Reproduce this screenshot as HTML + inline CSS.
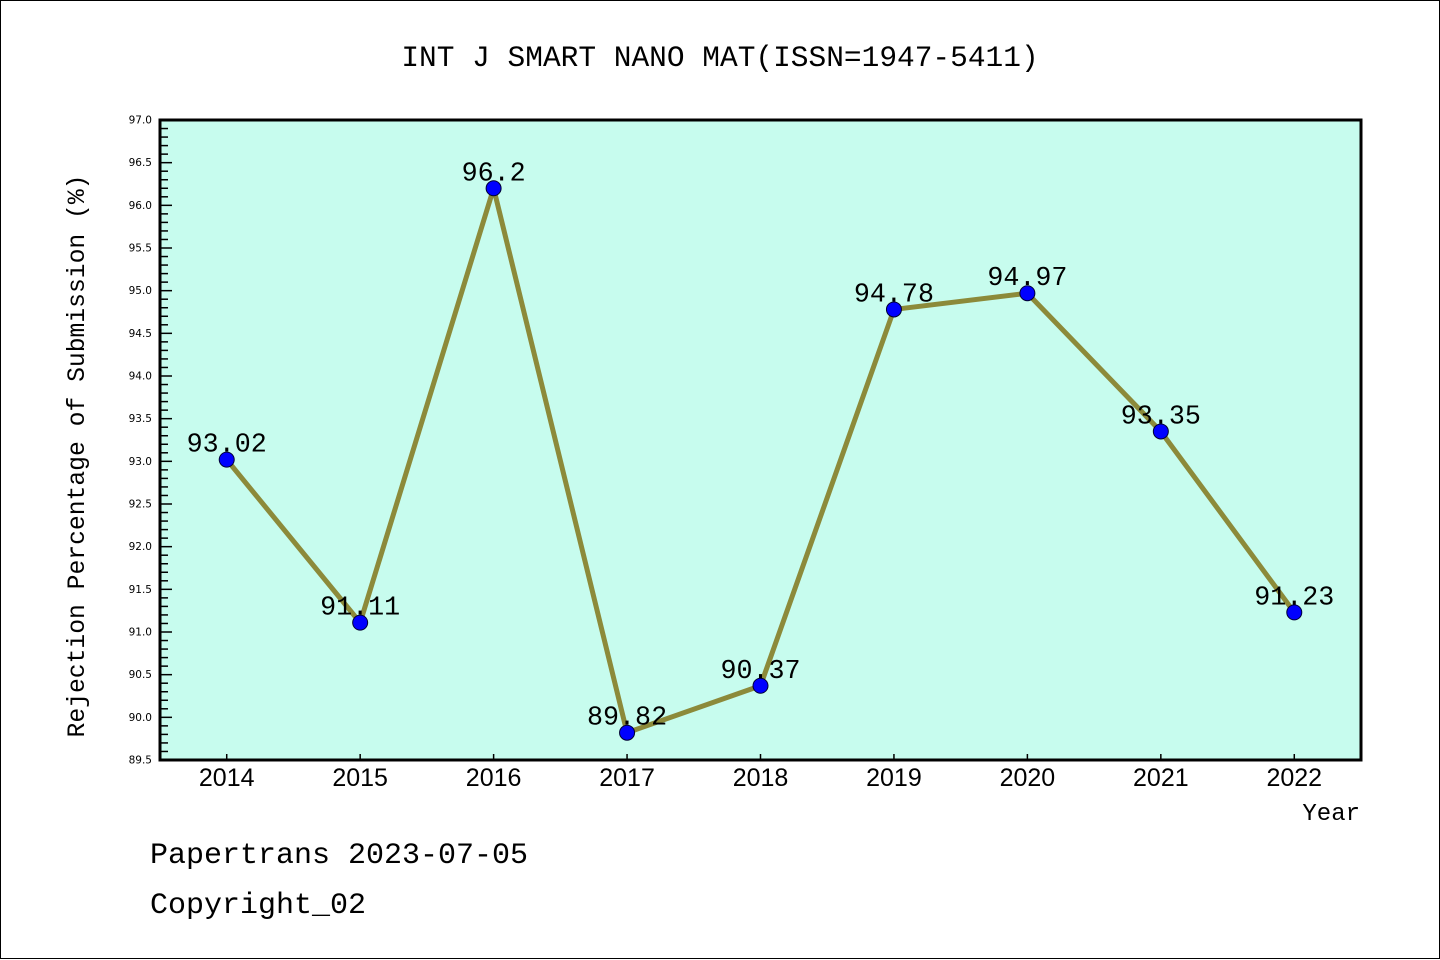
<!DOCTYPE html>
<html><head><meta charset="utf-8"><style>
body{margin:0;background:#fff}
svg{display:block}
.m{font-family:"Liberation Mono","WenQuanYi Zen Hei",monospace}
</style></head><body>
<svg id="chart" width="1440" height="960" xmlns="http://www.w3.org/2000/svg">
<rect x="0.5" y="0.5" width="1439" height="958" fill="#fff" stroke="#000" stroke-width="1"/>
<text class="m" x="720" y="66" font-size="29.5" text-anchor="middle">INT J SMART NANO MAT(ISSN=1947-5411)</text>
<rect x="160" y="120" width="1201" height="640" fill="#c7fcee"/>
<g id="ticks"></g>
<g id="series"></g>
<rect x="160" y="120" width="1201" height="640" fill="none" stroke="#000" stroke-width="3"/>
<text class="m" transform="translate(84,456) rotate(-90)" font-size="24.7" text-anchor="middle">Rejection Percentage of Submission (%)</text>
<text class="m" x="1360" y="820" font-size="24" text-anchor="end">Year</text>
<text class="m" x="150" y="863" font-size="30">Papertrans 2023-07-05</text>
<text class="m" x="150" y="913" font-size="30">Copyright_02</text>
</svg>
<script>
const categories=["2014","2015","2016","2017","2018","2019","2020","2021","2022"];
const values=[93.02,91.11,96.2,89.82,90.37,94.78,94.97,93.35,91.23];
const valueLabels=["93.02","91.11","96.2","89.82","90.37","94.78","94.97","93.35","91.23"];
const yMin=89.5,yMax=97.0;
const NS="http://www.w3.org/2000/svg";
const L=160,R=1361,T=120,B=760;
const bw=(R-L)/categories.length;
function xs(i){return L+(i+0.5)*bw;}
function ys(v){return B-(v-yMin)/(yMax-yMin)*(B-T);}
function mk(tag,a,p){const e=document.createElementNS(NS,tag);for(const k in a)e.setAttribute(k,a[k]);p.appendChild(e);return e;}
const tg=document.getElementById('ticks');
for(let k=0;k<=75;k++){
  const v=yMin+k*0.1;const y=ys(v);const major=k%5===0;
  const t=mk('line',{x1:L,x2:L+(major?12:8),y1:y,y2:y,stroke:'#000','stroke-width':1.5},tg);
  
  
  if(major){
    const tx=mk('text',{x:L-8,y:y+3.5,'font-size':10.5,'text-anchor':'end','font-family':'DejaVu Sans, sans-serif'},tg);
    
    
    tx.textContent=v.toFixed(1);
  }
}
categories.forEach((c,i)=>{
  const x=xs(i);
  const t=mk('line',{x1:x,x2:x,y1:B,y2:B-6,stroke:'#000','stroke-width':1.5},tg);
  
  
  const tx=mk('text',{x:x,y:B+26,'font-size':25,'text-anchor':'middle','font-family':'Liberation Sans, sans-serif'},tg);
  
  
  tx.textContent=c;
});
const sg=document.getElementById('series');
const pl=mk('polyline',{points:values.map((v,i)=>xs(i)+','+ys(v)).join(' '),fill:'none',stroke:'#8c8a3a','stroke-width':5,'stroke-linejoin':'round'},sg);


values.forEach((v,i)=>{
  const c=mk('circle',{cx:xs(i),cy:ys(v),r:7.5,fill:'#0000ff',stroke:'#000033','stroke-width':1},sg);
  
  
  const t=mk('text',{x:xs(i),y:ys(v)-8,'font-size':26.7,'text-anchor':'middle','class':'m'},sg);
  
  
  t.textContent=valueLabels[i];
});
</script>
</body></html>
